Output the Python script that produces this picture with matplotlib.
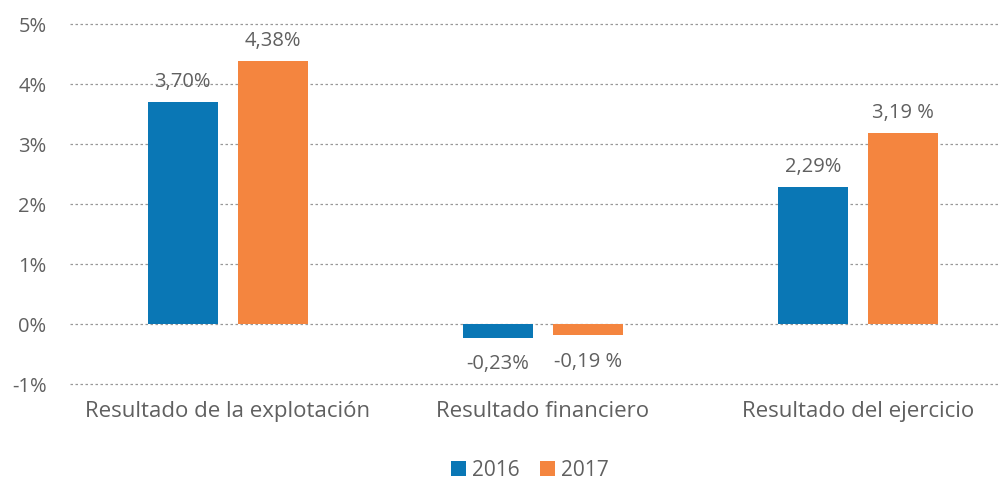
import numpy as np
import matplotlib.pyplot as plt

plt.rcParams['font.family'] = ['Open Sans', 'DejaVu Sans']

categorias = ['Resultado de la explotación', 'Resultado financiero', 'Resultado del ejercicio']
valores_2016 = [3.70, -0.23, 2.29]
valores_2017 = [4.38, -0.19, 3.19]
etiquetas_2016 = ['3,70%', '-0,23%', '2,29%']
etiquetas_2017 = ['4,38%', '-0,19 %', '3,19 %']
ticks_y = [-1, 0, 1, 2, 3, 4, 5]

azul = '#0A77B5'
naranja = '#F4853F'
gris = '#606060'

fig = plt.figure(figsize=(10.03, 4.8), dpi=100)
# 60 px por punto porcentual; margen pequeño para que se vea la línea de -1%
ax = fig.add_axes([70 / 1003, 1 - 385.8 / 480, 930 / 1003, 363.6 / 480])

x = np.arange(len(categorias))
ancho = 0.222
desp = 0.143

b1 = ax.bar(x - desp, valores_2016, ancho, color=azul, label='2016', zorder=3)
b2 = ax.bar(x + desp, valores_2017, ancho, color=naranja, label='2017', zorder=3)

for barras, etiquetas in [(b1, etiquetas_2016), (b2, etiquetas_2017)]:
    for b, t in zip(barras, etiquetas):
        h = b.get_height()
        cx = b.get_x() + b.get_width() / 2
        if h >= 0:
            ax.annotate(t, (cx, h), xytext=(0, 7), textcoords='offset points',
                        ha='center', va='bottom', fontsize=14.5, color=gris)
        else:
            ax.annotate(t, (cx, h), xytext=(0, -12), textcoords='offset points',
                        ha='center', va='top', fontsize=14.5, color=gris)

ax.set_ylim(-1.03, 5.03)
ax.set_xlim(-0.5, 2.45)
ax.set_yticks(ticks_y)
ax.set_yticklabels([f'{t}%' for t in ticks_y])
ax.set_xticks(x)
ax.set_xticklabels(categorias)
ax.tick_params(axis='y', length=0, pad=17, labelsize=14.5, labelcolor=gris)
ax.tick_params(axis='x', length=0, pad=11, labelsize=16, labelcolor=gris)

ax.grid(axis='y', linestyle=(0, (2, 2)), color='#999999', linewidth=0.9, zorder=0)
for s in ax.spines.values():
    s.set_visible(False)

fig.legend(handles=[b1, b2], loc='center', bbox_to_anchor=(530 / 1003, 1 - 470 / 480),
           ncol=2, frameon=False, fontsize=15, handlelength=0.7, handleheight=0.7,
           handletextpad=0.3, columnspacing=1.0, labelcolor=gris)

fig.savefig('out.png', dpi=100)
